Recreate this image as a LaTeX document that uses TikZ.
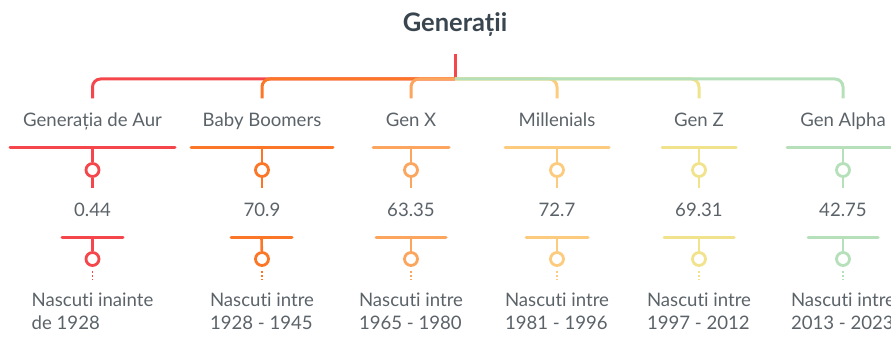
\documentclass[tikz,border=0pt]{standalone}
\usepackage{fontspec}
\setmainfont{Lato}[Ligatures={NoCommon}]
\definecolor{cRed}{HTML}{F5474B}
\definecolor{cOrange}{HTML}{FC7627}
\definecolor{cApricot}{HTML}{FCA55E}
\definecolor{cSand}{HTML}{FCCB7E}
\definecolor{cLemon}{HTML}{F0E38B}
\definecolor{cMint}{HTML}{B5E0B9}
\definecolor{txt}{HTML}{5B6369}
\definecolor{ttl}{HTML}{3A464F}

\begin{document}
\begin{tikzpicture}[x=1pt, y=-1pt,
    lbl/.style={text=txt, font=\fontsize{18.6}{22}\selectfont, text height=13.4pt, text depth=3.8pt, minimum height=47pt, inner sep=0pt},
    val/.style={text=txt, font=\fontsize{18.6}{22}\selectfont, anchor=base, inner sep=0pt},
    info/.style={text=txt, font=\fontsize{18.6}{22.5}\selectfont, align=left, anchor=base, inner sep=0pt},
    bar/.style={draw=#1, line width=3pt, line cap=round},
    stem/.style={draw=#1, line width=2.6pt},
    ring/.style={circle, draw=#1, fill=white, line width=2.8pt, minimum size=13pt, inner sep=0pt},
    branch/.style={draw=#1, line width=3pt, rounded corners=8pt},
    dots/.style={draw=#1, line width=1.5pt, dash pattern=on 2pt off 2pt, shorten <=4pt}]

    \useasboundingbox (0,0) rectangle (891,344);
    \clip (0,0) rectangle (891,344);

    % Title and hub
    \node[anchor=base, text=ttl, font=\bfseries\fontsize{25.5}{30}\selectfont, inner sep=0pt] (title) at (455,32) {Generații};
    \coordinate (top) at (455,54);
    \coordinate (hub) at (455,79);
    \draw[stem=cRed, line width=3pt] (top) -- (hub);

    % Labels
    \node[lbl] (l1) at (92.5,122.2) {Generația de Aur};
    \node[lbl] (l2) at (262,122.2) {Baby Boomers};
    \node[lbl] (l3) at (411,122.2) {Gen X};
    \node[lbl] (l4) at (557,122.2) {Millenials};
    \node[lbl] (l5) at (699,122.2) {Gen Z};
    \node[lbl] (l6) at (843,122.2) {Gen Alpha};

    % Branches
    \draw[branch=cRed] (hub) -| (l1.north);
    \draw[branch=cOrange] (hub) -| (l2.north);
    \draw[branch=cApricot] (hub) -| (l3.north);
    \draw[branch=cSand] (hub) -| (l4.north);
    \draw[branch=cLemon] (hub) -| (l5.north);
    \draw[branch=cMint] (hub) -| (l6.north);

    % Generatia de Aur
    \draw[bar=cRed] (10,148) -- coordinate (t1) (175,148);
    \node[ring=cRed] (r1) at (92.5,170) {};
    \coordinate (e1) at (92.5,188);
    \draw[stem=cRed] (t1) -- (r1);
    \draw[stem=cRed] (r1) -- (e1);
    \node[val] (v1) at (92.5,217) {0.44};
    \draw[bar=cRed] (62,238) -- coordinate (u1) (123,238);
    \node[ring=cRed] (s1) at (92.5,259) {};
    \draw[stem=cRed] (u1) -- (s1);
    \coordinate (d1) at (92.5,280);
    \draw[dots=cRed] (s1) -- (d1);
    \node[info] (n1) at (92.5,329.5) {Nascuti inainte\\de 1928};

    % Baby Boomers
    \draw[bar=cOrange] (191,148) -- coordinate (t2) (333,148);
    \node[ring=cOrange] (r2) at (262,170) {};
    \coordinate (e2) at (262,188);
    \draw[stem=cOrange] (t2) -- (r2);
    \draw[stem=cOrange] (r2) -- (e2);
    \node[val] (v2) at (262,217) {70.9};
    \draw[bar=cOrange] (231,238) -- coordinate (u2) (292,238);
    \node[ring=cOrange] (s2) at (262,259) {};
    \draw[stem=cOrange] (u2) -- (s2);
    \coordinate (d2) at (262,280);
    \draw[dots=cOrange] (s2) -- (d2);
    \node[info] (n2) at (262,329.5) {Nascuti intre\\1928 - 1945};

    % Gen X
    \draw[bar=cApricot] (373,148) -- coordinate (t3) (449,148);
    \node[ring=cApricot] (r3) at (411,170) {};
    \coordinate (e3) at (411,188);
    \draw[stem=cApricot] (t3) -- (r3);
    \draw[stem=cApricot] (r3) -- (e3);
    \node[val] (v3) at (411,217) {63.35};
    \draw[bar=cApricot] (376,238) -- coordinate (u3) (446,238);
    \node[ring=cApricot] (s3) at (411,259) {};
    \draw[stem=cApricot] (u3) -- (s3);
    \coordinate (d3) at (411,280);
    \draw[dots=cApricot] (s3) -- (d3);
    \node[info] (n3) at (411,329.5) {Nascuti intre\\1965 - 1980};

    % Millenials
    \draw[bar=cSand] (505,148) -- coordinate (t4) (609,148);
    \node[ring=cSand] (r4) at (557,170) {};
    \coordinate (e4) at (557,188);
    \draw[stem=cSand] (t4) -- (r4);
    \draw[stem=cSand] (r4) -- (e4);
    \node[val] (v4) at (557,217) {72.7};
    \draw[bar=cSand] (526,238) -- coordinate (u4) (588,238);
    \node[ring=cSand] (s4) at (557,259) {};
    \draw[stem=cSand] (u4) -- (s4);
    \coordinate (d4) at (557,280);
    \draw[dots=cSand] (s4) -- (d4);
    \node[info] (n4) at (557,329.5) {Nascuti intre\\1981 - 1996};

    % Gen Z
    \draw[bar=cLemon] (662,148) -- coordinate (t5) (736,148);
    \node[ring=cLemon] (r5) at (699,170) {};
    \coordinate (e5) at (699,188);
    \draw[stem=cLemon] (t5) -- (r5);
    \draw[stem=cLemon] (r5) -- (e5);
    \node[val] (v5) at (699,217) {69.31};
    \draw[bar=cLemon] (664,238) -- coordinate (u5) (734,238);
    \node[ring=cLemon] (s5) at (699,259) {};
    \draw[stem=cLemon] (u5) -- (s5);
    \coordinate (d5) at (699,280);
    \draw[dots=cLemon] (s5) -- (d5);
    \node[info] (n5) at (699,329.5) {Nascuti intre\\1997 - 2012};

    % Gen Alpha
    \draw[bar=cMint] (787,148) -- coordinate (t6) (899,148);
    \node[ring=cMint] (r6) at (843,170) {};
    \coordinate (e6) at (843,188);
    \draw[stem=cMint] (t6) -- (r6);
    \draw[stem=cMint] (r6) -- (e6);
    \node[val] (v6) at (843,217) {42.75};
    \draw[bar=cMint] (808,238) -- coordinate (u6) (878,238);
    \node[ring=cMint] (s6) at (843,259) {};
    \draw[stem=cMint] (u6) -- (s6);
    \coordinate (d6) at (843,280);
    \draw[dots=cMint] (s6) -- (d6);
    \node[info] (n6) at (843,329.5) {Nascuti intre\\2013 - 2023};

\end{tikzpicture}
\end{document}
